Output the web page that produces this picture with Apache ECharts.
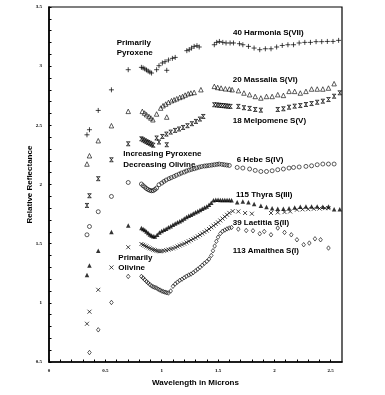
<!DOCTYPE html>
<html><head><meta charset="utf-8">
<script src="https://cdn.jsdelivr.net/npm/echarts@6/dist/echarts.min.js"></script>
<style>html,body{margin:0;padding:0;background:#fff}#c{width:385px;height:395px}</style>
</head><body><div id="c"></div>
<script>
const xTickLabels = ['0','0.5','1','1.5','2','2.5'];
const yTickLabels = ['0.5','1','1.5','2','2.5','3','3.5'];
const asteroidNames = ['40 Harmonia S(VII)','20 Massalia S(VI)','18 Melpomene S(V)','6 Hebe S(IV)','115 Thyra S(III)','39 Laetitia S(II)','113 Amalthea S(I)'];
const noteTexts = ['Primarily','Pyroxene','Increasing Pyroxene','Decreasing Olivine','Primarily','Olivine'];

const harmonia = [
[0.337,2.42],[0.359,2.463],[0.437,2.626],[0.554,2.80],[0.703,2.97],
[0.82,2.99],[0.835,2.985],[0.85,2.977],[0.865,2.968],[0.88,2.958],[0.895,2.95],[0.91,2.942],
[0.955,2.97],[1.045,2.965],
[0.976,3.004],[1.006,3.027],[1.03,3.038],[1.06,3.052],[1.095,3.066],[1.12,3.074],
[1.223,3.131],[1.244,3.139],[1.265,3.153],[1.288,3.167],[1.313,3.173],[1.333,3.162],
[1.467,3.181],[1.488,3.201],[1.512,3.209],[1.542,3.201],[1.571,3.196],[1.607,3.196],[1.637,3.196],[1.69,3.19],
[1.72,3.181],[1.77,3.167],[1.82,3.153],[1.87,3.139],[1.92,3.147],[1.97,3.147],[2.02,3.162],[2.07,3.175],[2.12,3.181],[2.17,3.181],[2.22,3.196],[2.27,3.201],[2.32,3.201],[2.37,3.207],[2.42,3.207],[2.47,3.209],[2.52,3.209],[2.57,3.218]
];
const massalia = [
[0.337,2.173],[0.359,2.243],[0.437,2.37],[0.554,2.497],[0.703,2.618],
[0.828,2.618],[0.848,2.604],[0.866,2.59],[0.887,2.575],[0.904,2.562],[0.922,2.547],
[0.955,2.596],[1.045,2.57],
[0.991,2.646],[1.012,2.666],[1.036,2.68],[1.06,2.694],[1.087,2.708],[1.11,2.716],[1.134,2.725],[1.16,2.736],[1.185,2.744],[1.208,2.756],[1.235,2.767],[1.259,2.773],[1.288,2.778],[1.348,2.801],
[1.467,2.829],[1.497,2.82],[1.527,2.815],[1.565,2.809],[1.601,2.807],[1.625,2.801],[1.681,2.793],
[1.73,2.773],[1.78,2.759],[1.83,2.744],[1.88,2.731],[1.93,2.744],[1.98,2.744],[2.03,2.759],[2.08,2.753],[2.13,2.787],[2.18,2.787],[2.23,2.773],[2.28,2.787],[2.33,2.807],[2.38,2.807],[2.43,2.807],[2.48,2.815],[2.53,2.852]
];
const melpomene = [
[0.337,1.823],[0.359,1.905],[0.437,2.049],[0.554,2.209],[0.703,2.344],
[0.82,2.386],[0.835,2.378],[0.85,2.37],[0.865,2.362],[0.88,2.355],[0.895,2.348],[0.91,2.34],[0.925,2.332],
[0.955,2.393],[1.045,2.336],
[0.976,2.359],[1.006,2.406],[1.042,2.426],[1.08,2.443],[1.119,2.457],[1.154,2.469],[1.19,2.482],[1.229,2.497],[1.268,2.514],[1.304,2.533],[1.339,2.553],[1.369,2.575],
[1.467,2.674],[1.49,2.672],[1.51,2.67],[1.53,2.668],[1.55,2.666],[1.57,2.664],[1.59,2.662],[1.61,2.66],
[1.68,2.66],[1.73,2.649],[1.78,2.643],[1.83,2.634],[1.88,2.628],
[2.03,2.634],[2.08,2.64],[2.13,2.653],[2.18,2.662],[2.23,2.667],[2.28,2.676],[2.33,2.684],[2.38,2.695],[2.43,2.704],[2.48,2.718],[2.53,2.746],[2.58,2.775]
];
const hebe = [
[0.337,1.575],[0.359,1.645],[0.437,1.77],[0.554,1.899],[0.703,2.017],
[0.82,2.004],[0.835,1.99],[0.85,1.978],[0.865,1.966],[0.88,1.957],[0.895,1.95],[0.91,1.947],[0.925,1.948],[0.94,1.958],
[0.955,1.97],[0.976,1.998],[1.0,2.012],[1.02,2.026],[1.04,2.038],[1.065,2.049],[1.085,2.058],[1.11,2.068],[1.13,2.078],[1.155,2.088],[1.175,2.097],[1.2,2.105],[1.22,2.114],[1.244,2.122],[1.265,2.128],[1.288,2.133],[1.31,2.14],[1.333,2.147],[1.355,2.152],[1.38,2.156],[1.4,2.158],[1.422,2.161],[1.445,2.164],[1.467,2.167],[1.49,2.17],[1.51,2.173],[1.535,2.17],[1.556,2.167],[1.578,2.164],[1.6,2.161],
[1.67,2.144],[1.72,2.139],[1.78,2.131],[1.83,2.119],[1.88,2.11],[1.93,2.11],[1.98,2.116],[2.03,2.125],[2.08,2.131],[2.13,2.139],[2.17,2.144],[2.22,2.148],[2.28,2.153],[2.33,2.158],[2.38,2.167],[2.43,2.173],[2.48,2.173],[2.53,2.173]
];
const thyra = [
[0.337,1.235],[0.359,1.316],[0.437,1.44],[0.554,1.598],[0.703,1.654],
[0.82,1.632],[0.835,1.625],[0.85,1.615],[0.865,1.603],[0.88,1.59],[0.895,1.578],[0.91,1.568],[0.925,1.562],[0.94,1.56],
[0.96,1.575],[0.98,1.595],[1.0,1.608],[1.02,1.618],[1.04,1.626],[1.06,1.638],[1.08,1.648],[1.1,1.66],[1.12,1.67],[1.14,1.68],[1.16,1.69],[1.18,1.7],[1.2,1.712],[1.22,1.725],[1.24,1.735],[1.26,1.745],[1.28,1.755],[1.3,1.765],[1.32,1.775],[1.34,1.785],[1.36,1.795],[1.38,1.805],[1.4,1.815],[1.42,1.828],[1.44,1.845],
[1.46,1.866],[1.48,1.872],[1.5,1.872],[1.52,1.87],[1.54,1.87],[1.56,1.87],[1.58,1.868],[1.6,1.868],[1.62,1.866],
[1.67,1.85],[1.72,1.857],[1.77,1.85],[1.82,1.836],[1.88,1.82],[1.93,1.81],[1.98,1.80],[2.03,1.795],[2.08,1.795],[2.13,1.80],[2.18,1.805],[2.23,1.812],[2.28,1.815],[2.33,1.815],[2.38,1.815],[2.43,1.812],[2.48,1.815],[2.53,1.79],[2.58,1.79]
];
const laetitia = [
[0.337,0.823],[0.359,0.925],[0.437,1.11],[0.554,1.299],[0.703,1.47],
[0.82,1.497],[0.835,1.49],[0.85,1.483],[0.865,1.476],[0.88,1.468],[0.895,1.461],[0.91,1.455],[0.925,1.449],[0.94,1.445],[0.955,1.44],[0.97,1.437],[0.985,1.435],
[1.0,1.437],[1.02,1.44],[1.04,1.445],[1.06,1.45],[1.08,1.455],[1.1,1.46],[1.12,1.468],[1.14,1.476],[1.16,1.484],[1.18,1.492],[1.2,1.5],[1.22,1.51],[1.24,1.52],[1.26,1.53],[1.28,1.54],[1.3,1.55],[1.32,1.562],[1.34,1.574],[1.36,1.586],[1.38,1.598],[1.4,1.61],[1.42,1.624],[1.44,1.638],[1.46,1.652],[1.48,1.666],[1.5,1.68],[1.52,1.696],[1.54,1.712],[1.56,1.728],[1.58,1.744],[1.6,1.76],[1.63,1.775],
[1.68,1.772],[1.74,1.759],[1.80,1.753],
[1.97,1.759],[2.03,1.764],[2.09,1.767],[2.14,1.772],[2.2,1.787],[2.25,1.79],[2.3,1.792],[2.35,1.795],[2.4,1.797],[2.45,1.80],[2.48,1.80]
];
const amalthea = [
[0.359,0.58],[0.437,0.772],[0.554,1.003],[0.703,1.223],
[0.82,1.223],[0.835,1.21],[0.85,1.195],[0.865,1.18],[0.88,1.168],[0.895,1.155],[0.91,1.143],[0.925,1.135],[0.94,1.13],[0.955,1.125],[0.97,1.115],[0.985,1.108],[1.0,1.1],[1.015,1.094],[1.03,1.09],[1.045,1.086],[1.06,1.083],
[1.08,1.1],[1.1,1.14],[1.12,1.16],[1.14,1.175],[1.16,1.19],[1.18,1.2],[1.2,1.212],[1.22,1.225],[1.24,1.235],[1.26,1.243],[1.28,1.255],[1.3,1.27],[1.32,1.285],[1.34,1.3],[1.36,1.318],[1.38,1.335],[1.4,1.35],[1.42,1.37],[1.44,1.4],[1.455,1.44],[1.47,1.48],[1.485,1.52],[1.5,1.555],[1.52,1.585],[1.54,1.605],[1.56,1.615],[1.58,1.625],[1.6,1.632],[1.62,1.637],
[1.68,1.623],[1.75,1.611],[1.81,1.609],[1.87,1.584],[1.91,1.603],[1.97,1.575],[2.03,1.632],[2.09,1.595],[2.15,1.575],[2.2,1.533],[2.26,1.491],[2.31,1.505],[2.36,1.541],[2.41,1.533],[2.48,1.463]
];

const chart = echarts.init(document.getElementById('c'), null, {renderer:'canvas'});
const openStyle = {color:'rgba(0,0,0,0)', borderColor:'#000', borderWidth:0.8};
const lineSym = {color:'rgba(0,0,0,0)', borderColor:'#000', borderWidth:0.9};
function sc(name, data, symbol, size, style){
  return {name, type:'scatter', data, symbol, symbolSize:size, itemStyle:style, silent:true, z:3};
}
const tickFmt = (list) => (v) => { const s = String(Math.round(v*10)/10); return list.indexOf(s) >= 0 ? s : ''; };
const labelFont = {fontSize:5, fontFamily:'Liberation Serif', fontWeight:'bold', color:'#000'};
const titleFont = {fontSize:8, fontFamily:'Liberation Sans', fontWeight:'bold', color:'#000'};

const labelPos = [[233,33],[232.7,80],[232.7,120.7],[236.7,159.3],[236,194.3],[232.7,222.7],[232.7,250.7]];
const notePos = [[116.7,42.7],[116.7,53],[123.3,154],[123.3,164.3],[118.3,257.7],[118.3,267.7]];
const graphics = [];
asteroidNames.forEach((t,i)=>graphics.push({type:'text', x:labelPos[i][0], y:labelPos[i][1], style:{text:t, font:'bold 8px "Liberation Sans"', fill:'#000', verticalAlign:'middle'}}));
noteTexts.forEach((t,i)=>graphics.push({type:'text', x:notePos[i][0], y:notePos[i][1], style:{text:t, font:'bold 8px "Liberation Sans"', fill:'#000', verticalAlign:'middle'}}));

chart.setOption({
  animation:false,
  grid:{left:49, right:43, top:7, bottom:33, show:true, borderColor:'#000', borderWidth:1.2, backgroundColor:'rgba(0,0,0,0)'},
  xAxis:{type:'value', min:0, max:2.6, interval:0.1,
    name:'Wavelength in Microns', nameLocation:'middle', nameGap:17, nameMoveOverlap:false, nameTextStyle:titleFont,
    axisLine:{show:true, lineStyle:{color:'#000', width:1.6}},
    axisTick:{show:true, inside:true, length:2.5, lineStyle:{color:'#000', width:1}},
    splitLine:{show:false},
    axisLabel:{formatter:tickFmt(xTickLabels), margin:6, showMaxLabel:false, ...labelFont}},
  yAxis:{type:'value', min:0.5, max:3.5, interval:0.1,
    name:'Relative Reflectance', nameLocation:'middle', nameRotate:90, nameGap:15, nameMoveOverlap:false, nameTextStyle:titleFont,
    axisLine:{show:true, lineStyle:{color:'#000', width:1.6}},
    axisTick:{show:true, inside:true, length:2.5, lineStyle:{color:'#000', width:1}},
    splitLine:{show:false},
    axisLabel:{formatter:tickFmt(yTickLabels), margin:7, ...labelFont}},
  graphic:graphics,
  series:[
    sc(asteroidNames[0], harmonia, 'path://M5,0L5,10M0,5L10,5', 5, lineSym),
    sc(asteroidNames[1], massalia, 'triangle', 4.5, openStyle),
    sc(asteroidNames[2], melpomene, 'path://M0,0L10,0M0,10L10,10M1.5,0L8.5,10M8.5,0L1.5,10', 4, lineSym),
    sc(asteroidNames[3], hebe, 'circle', 4, openStyle),
    sc(asteroidNames[4], thyra, 'triangle', 4.5, {color:'#000'}),
    sc(asteroidNames[5], laetitia, 'path://M0,0L10,10M10,0L0,10', 4, lineSym),
    sc(asteroidNames[6], amalthea, 'diamond', [3.5,4.5], openStyle)
  ]
});
</script>
</body></html>
